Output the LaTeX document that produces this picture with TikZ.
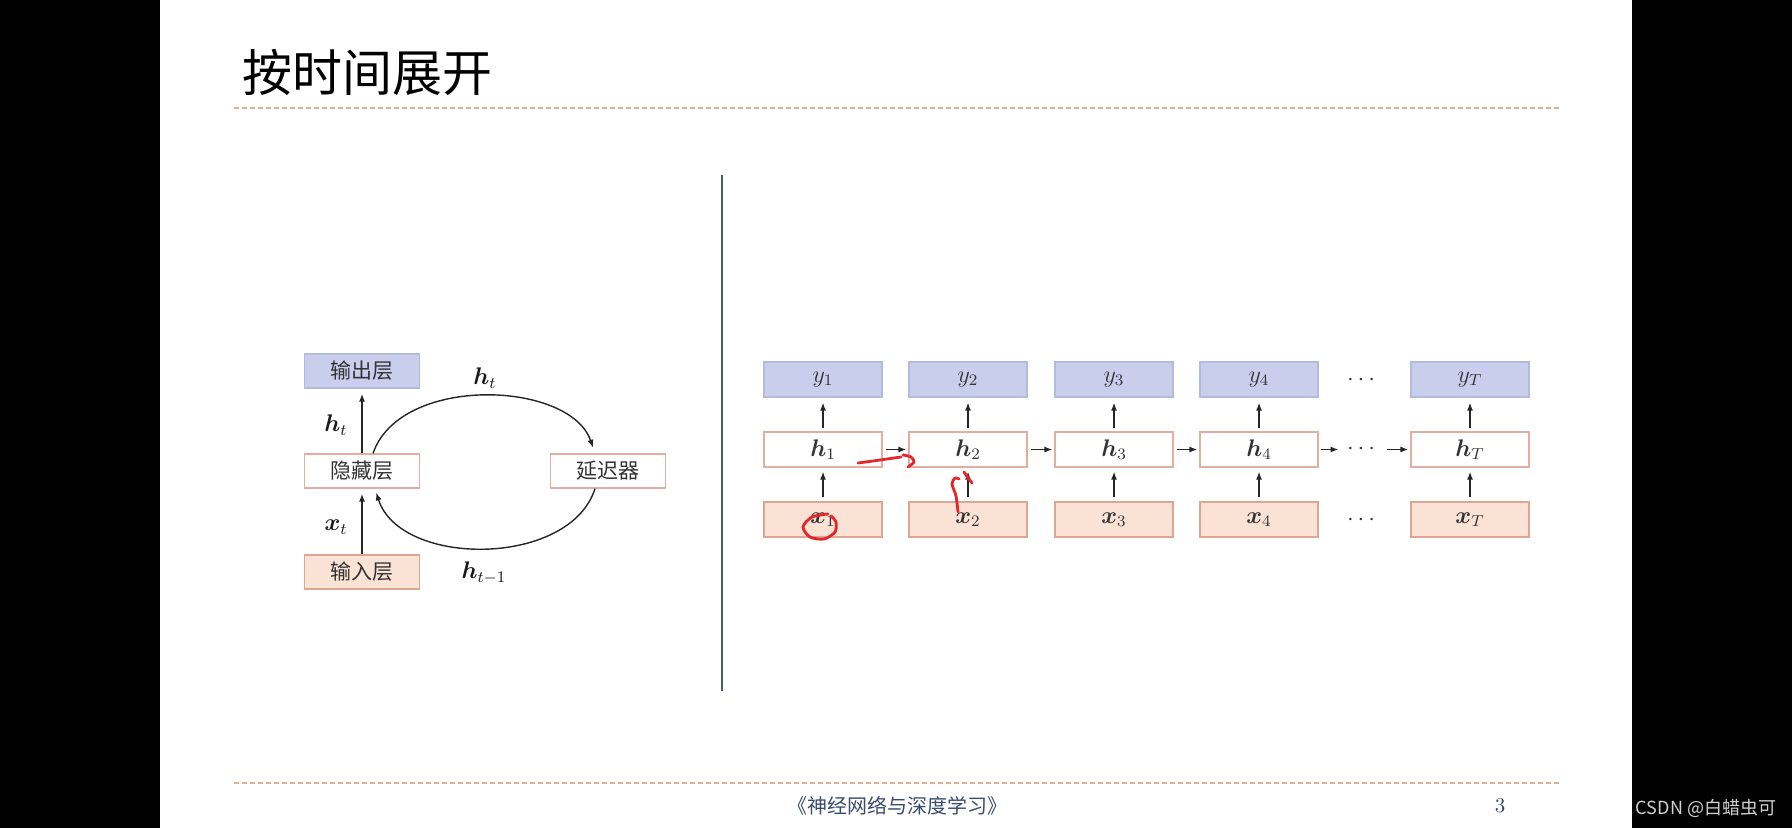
\documentclass[tikz,border=0pt]{standalone}
\usepackage{fontspec}
\usepackage{amsmath}
\usepackage{bm}
\usetikzlibrary{arrows.meta}
\newfontfamily\cjk{Noto Sans CJK SC}
\definecolor{outfill}{HTML}{C8CEEC}
\definecolor{outborder}{HTML}{B3BBDD}
\definecolor{hidborder}{HTML}{E2AEA2}
\definecolor{inpfill}{HTML}{FAE2D4}
\definecolor{inpborder}{HTML}{DCA594}
\definecolor{dashcol}{HTML}{E2B08A}
\definecolor{footcol}{HTML}{3B4B6E}
\definecolor{vline}{HTML}{4A5870}
\definecolor{textgrey}{HTML}{333333}
\definecolor{annot}{HTML}{E3262A}
\begin{document}
\begin{tikzpicture}[x=0.5pt,y=-0.5pt,
  boxbase/.style={inner sep=0pt, text=textgrey, line width=0.6pt},
  lbox/.style={boxbase, minimum width=57.5pt, minimum height=17pt, font=\cjk\fontsize{10.5}{12}\selectfont},
  rbox/.style={boxbase, minimum width=59pt, minimum height=17.5pt, font=\fontsize{11.5}{13}\selectfont},
  outsty/.style={draw=outborder, fill=outfill},
  hidsty/.style={draw=hidborder, fill=white},
  inpsty/.style={draw=inpborder, fill=inpfill},
  arr/.style={-{Latex[length=4pt,width=3pt]}, line width=0.7pt, color=black!85},
  mlabel/.style={font=\fontsize{11.5}{13}\selectfont, text=black!90, inner sep=0pt},
  dotsty/.style={font=\fontsize{11.5}{13}\selectfont, text=textgrey, inner ysep=0pt, inner xsep=4pt},
  ann/.style={draw=annot, line width=1.4pt, line cap=round, line join=round},
  dashline/.style={draw=dashcol, line width=0.65pt, dash pattern=on 2.5pt off 1.5pt}
]
\path[use as bounding box] (0,0) rectangle (1792,828);
\fill[black] (0,0) rectangle (160,828);
\fill[black] (1632,0) rectangle (1792,828);
\fill[white] (160,0) rectangle (1632,828);

% title and rules
\node[anchor=west, inner sep=0pt, font=\cjk\fontsize{25}{29}\selectfont] (title) at (242,72) {按时间展开};
\draw[dashline] (234,108) -- (1560,108);
\draw[dashline] (234,783) -- (1560,783);
\draw[draw=vline, line width=1pt] (722,175) -- (722,691);

% footer
\node[inner sep=0pt, text=footcol, font=\cjk\fontsize{10}{12}\selectfont] (foot) at (897,806) {《神经网络与深度学习》};
\node[inner sep=0pt, text=footcol, font=\fontsize{10.5}{12}\selectfont] (page) at (1500,806) {3};
\node[inner sep=0pt, text=black!18, font=\cjk\fontsize{9}{11}\selectfont] (wm) at (1706,808) {CSDN @白蜡虫可};

% left diagram
\node[lbox, outsty] (out) at (362,371) {输出层};
\node[lbox, hidsty] (hid) at (362,471) {隐藏层};
\node[lbox, inpsty] (inp) at (362,572) {输入层};
\node[lbox, hidsty] (delay) at (608,471) {延迟器};
\draw[arr, shorten >=2.5pt] (hid) -- (out);
\draw[arr, shorten >=2.5pt] (inp) -- (hid);
\node[mlabel] (lht) at (336,425) {$\bm{h}_t$};
\node[mlabel] (lxt) at (336,527) {$\bm{x}_t$};
\draw[arr, shorten >=3pt] ([xshift=5.5pt]hid.north) .. controls +(27,-79) and +(-25,-73) .. ([xshift=-6.5pt]delay.north);
\draw[arr, shorten >=2pt] ([xshift=-6.5pt]delay.south) .. controls +(-25,79) and +(25,79) .. ([xshift=6.5pt]hid.south);
\node[mlabel] (tht) at (485,378) {$\bm{h}_t$};
\node[mlabel] (bht) at (484,573) {$\bm{h}_{t-1}$};

% right diagram
\foreach \i/\cx/\s in {1/823/1, 2/968/2, 3/1114/3, 4/1259/4, T/1470/T} {
  \node[rbox, outsty] (y\i) at (\cx,379.5) {$y_{\s}$};
  \node[rbox, hidsty] (h\i) at (\cx,449.5) {$\bm{h}_{\s}$};
  \node[rbox, inpsty] (x\i) at (\cx,519.5) {$\bm{x}_{\s}$};
  \draw[arr, shorten >=2.5pt, shorten <=1.5pt] (h\i) -- (y\i);
  \draw[arr, shorten >=2pt, shorten <=2pt] (x\i) -- (h\i);
}
\node[dotsty] (ydots) at (1363,380) {$\cdots$};
\node[dotsty] (hdots) at (1363,449.5) {$\cdots$};
\node[dotsty] (xdots) at (1363,520) {$\cdots$};
\draw[arr, shorten >=1pt, shorten <=1.5pt] (h1) -- (h2);
\draw[arr, shorten >=1pt, shorten <=1.5pt] (h2) -- (h3);
\draw[arr, shorten >=1pt, shorten <=1.5pt] (h3) -- (h4);
\draw[arr, shorten >=0pt, shorten <=1pt] (h4) -- (hdots);
\draw[arr, shorten >=1pt, shorten <=0pt] (hdots) -- (hT);

% red handwritten annotations
\draw[ann] plot[smooth] coordinates {(828,514) (812,517) (803,527) (810,537) (824,539) (835,532) (836,522) (831,516)};
\draw[ann] plot[smooth] coordinates {(858,463) (880,460) (901,457)};
\draw[ann] plot[smooth] coordinates {(903,455) (911,457) (914,462) (908,467)};
\draw[ann] plot[smooth] coordinates {(958,512) (956,496) (952,484) (955,478) (959,479)};
\draw[ann] plot[smooth] coordinates {(964,472) (968,478) (972,483)};
\end{tikzpicture}
\end{document}
